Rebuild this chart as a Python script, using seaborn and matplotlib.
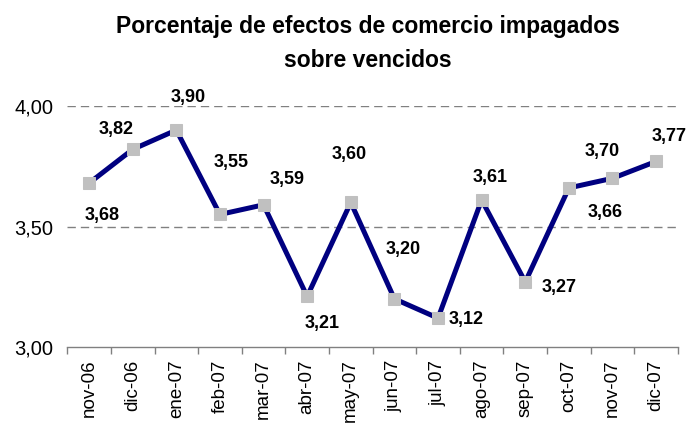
import numpy as np
import pandas as pd
import seaborn as sns
from matplotlib import pyplot as plt
from matplotlib.ticker import FuncFormatter

# Datos del grafico
meses = ['nov-06', 'dic-06', 'ene-07', 'feb-07', 'mar-07', 'abr-07', 'may-07',
         'jun-07', 'jul-07', 'ago-07', 'sep-07', 'oct-07', 'nov-07', 'dic-07']
porcentaje = [3.68, 3.82, 3.90, 3.55, 3.59, 3.21, 3.60,
              3.20, 3.12, 3.61, 3.27, 3.66, 3.70, 3.77]
yticks = [3.00, 3.50, 4.00]
titulo = 'Porcentaje de efectos de comercio impagados\nsobre vencidos'

df = pd.DataFrame({'mes': meses, 'porcentaje': porcentaje})

# Posicion de las etiquetas respecto al punto (pixeles, dy positivo = arriba)
offsets = [(13, -32), (-17, 20), (12, 33), (11, 52), (24, 25), (15, -27), (-2, 48),
           (9, 49), (28, -1), (8, 22), (34, -6), (36, -25), (-10, 27), (13, 25)]

sns.set_style('white')
plt.rcParams['font.family'] = ['Liberation Sans', 'DejaVu Sans']
plt.rcParams['text.color'] = 'black'
plt.rcParams['xtick.labelcolor'] = 'black'
plt.rcParams['ytick.labelcolor'] = 'black'

fig = plt.figure(figsize=(6.9, 4.29), dpi=100)
ax = fig.add_axes([0.0975, 0.191, 0.885, 0.562])

sns.lineplot(data=df, x='mes', y='porcentaje', sort=False, ax=ax,
             color='#000080', linewidth=3.6, marker='s', markersize=8,
             markerfacecolor='#C0C0C0', markeredgecolor='#C0C0C0', zorder=3)

# Etiquetas de datos
for i, v in enumerate(porcentaje):
    dx, dy = offsets[i]
    ax.annotate(f'{v:.2f}'.replace('.', ','), xy=(i, v), xytext=(dx, dy),
                textcoords='offset pixels', ha='center', va='center',
                fontsize=13, fontweight='bold', color='black',
                annotation_clip=False)

# Ejes
ax.set_ylim(3.0, 4.0)
ax.set_xlim(-0.5, len(meses) - 0.5)
ax.set_yticks(yticks)
ax.yaxis.set_major_formatter(FuncFormatter(lambda v, p: f'{v:.2f}'.replace('.', ',')))
ax.tick_params(axis='y', length=0, pad=10, labelsize=14.5, labelcolor='black')
ax.set_xticks(range(len(meses)))
ax.set_xticklabels(meses, rotation=90)
ax.set_xticks(np.arange(-0.5, len(meses), 1), minor=True)
ax.tick_params(axis='x', which='major', length=0, pad=9, labelsize=13.5,
               labelcolor='black')
ax.tick_params(axis='x', which='minor', length=5, width=1, color='#808080',
               direction='out', bottom=True)
ax.set_xlabel('')
ax.set_ylabel('')

for y in yticks[1:]:
    ax.axhline(y, color='#808080', linewidth=1, linestyle=(0, (6, 3.6)), zorder=1)

for s in ['top', 'right', 'left']:
    ax.spines[s].set_visible(False)
ax.spines['bottom'].set_color('#808080')
ax.spines['bottom'].set_linewidth(1)

fig.text(0.533, 0.899, titulo, ha='center', va='center', fontsize=16.5,
         fontweight='bold', linespacing=1.6, color='black')

fig.savefig('out.png', dpi=100)
